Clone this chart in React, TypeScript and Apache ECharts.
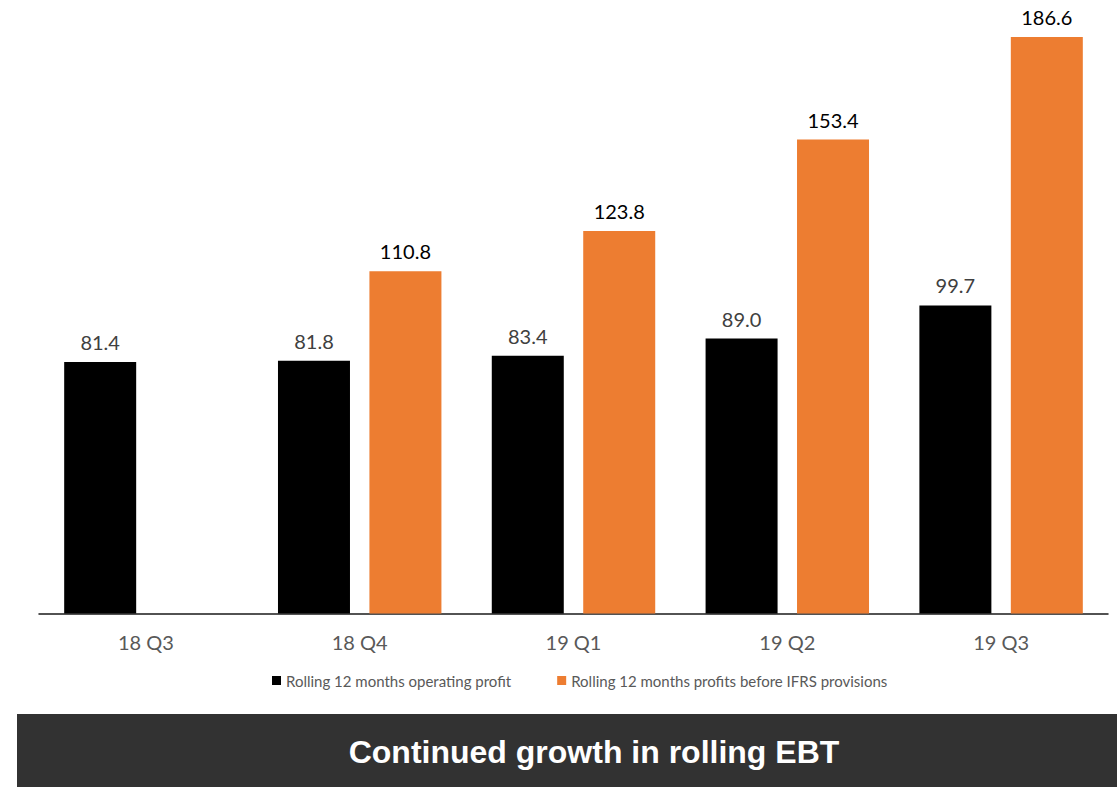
import React, { useEffect, useRef } from "react";
import * as echarts from "echarts";

const categories = ["18 Q3", "18 Q4", "19 Q1", "19 Q2", "19 Q3"];
const operatingProfit = [81.4, 81.8, 83.4, 89.0, 99.7];
const profitsBeforeIFRS: (number | null)[] = [null, 110.8, 123.8, 153.4, 186.6];
const seriesNames = [
  "Rolling 12 months operating profit",
  "Rolling 12 months profits before IFRS provisions",
];
const bannerText = "Continued growth in rolling EBT";

export default function App() {
  const ref = useRef<HTMLDivElement>(null);
  useEffect(() => {
    if (!ref.current) return;
    const chart = echarts.init(ref.current, undefined, { renderer: "svg" });
    chart.setOption({
      animation: false,
      backgroundColor: "#ffffff",
      grid: { left: 39, right: 9, top: 26.5, bottom: 173.5, containLabel: false },
      xAxis: {
        type: "category",
        data: categories,
        axisLine: { show: true, lineStyle: { color: "#1a1a1a", width: 1.5 } },
        axisTick: { show: false },
        axisLabel: {
          color: "#595959",
          fontFamily: "Lato",
          fontSize: 20,
          margin: 18,
        },
      },
      yAxis: {
        type: "value",
        min: 0,
        max: 190,
        show: false,
        splitLine: { show: false },
      },
      legend: {
        left: 267,
        top: 668,
        itemWidth: 9,
        itemHeight: 9,
        itemGap: 46,
        icon: "rect",
        textStyle: { color: "#595959", fontFamily: "Lato", fontSize: 15 },
        data: seriesNames,
      },
      series: [
        {
          name: seriesNames[0],
          type: "bar",
          data: operatingProfit,
          barWidth: 72,
          barGap: "27%",
          itemStyle: { color: "#000000" },
          label: {
            show: true,
            position: "top",
            distance: 10,
            color: "#404040",
            fontFamily: "Lato",
            fontSize: 20,
            formatter: (p: any) => Number(p.value).toFixed(1),
          },
        },
        {
          name: seriesNames[1],
          type: "bar",
          data: profitsBeforeIFRS,
          barWidth: 72,
          barGap: "27%",
          itemStyle: { color: "#ED7D31" },
          label: {
            show: true,
            position: "top",
            distance: 10,
            color: "#000000",
            fontFamily: "Lato",
            fontSize: 20,
            formatter: (p: any) => Number(p.value).toFixed(1),
          },
        },
      ],
      graphic: [
        {
          type: "rect",
          shape: { x: 17, y: 714, width: 1100, height: 73 },
          style: { fill: "#323232" },
          silent: true,
        },
        {
          type: "text",
          x: 594,
          y: 752,
          style: {
            text: bannerText,
            fill: "#ffffff",
            font: "bold 32px 'Liberation Sans', Arial, sans-serif",
            align: "center",
            verticalAlign: "middle",
          },
        },
      ],
    });
    return () => chart.dispose();
  }, []);
  return (
    <div
      ref={ref}
      style={{ position: "fixed", left: 0, top: 0, width: 1117, height: 787 }}
    />
  );
}
